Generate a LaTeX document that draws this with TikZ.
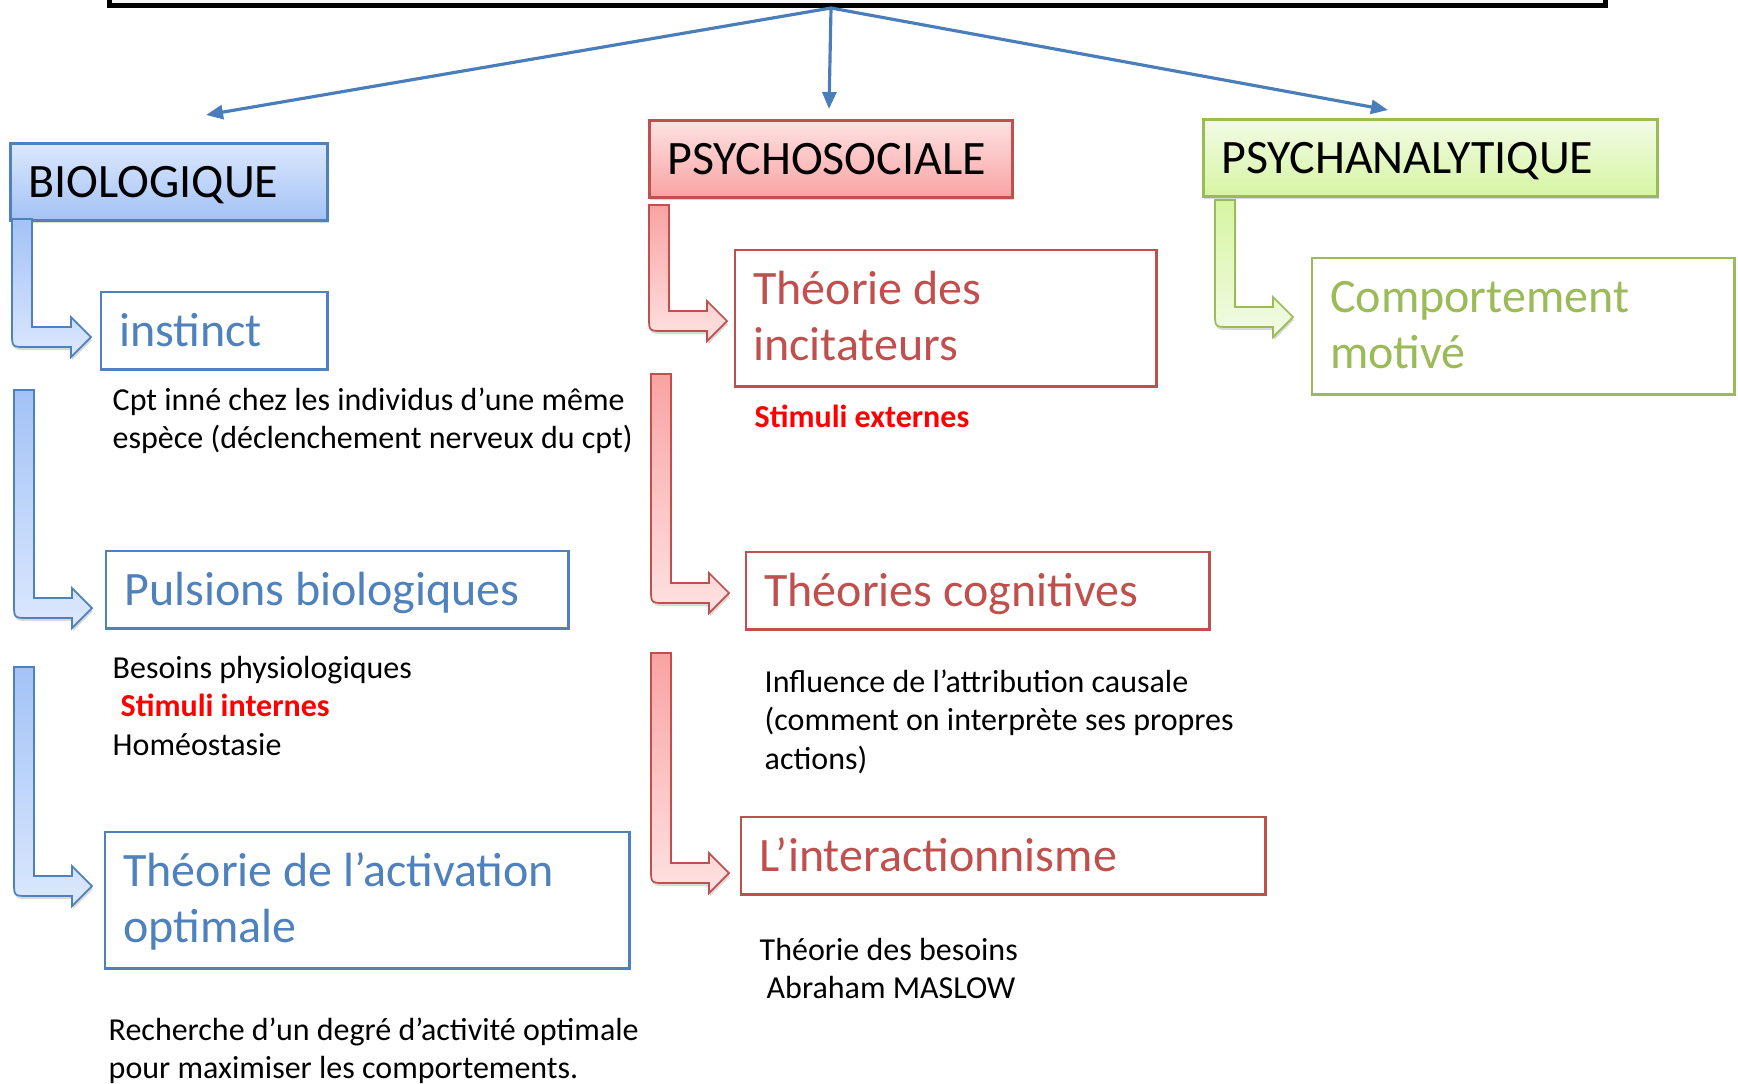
\documentclass[tikz,border=0pt]{standalone}
\usepackage{fontspec}
\setmainfont{Carlito}
\usetikzlibrary{arrows.meta,shadows}

\definecolor{bioline}{HTML}{4F81BD}
\definecolor{biolight}{RGB}{220,232,253}
\definecolor{biodark}{RGB}{163,194,246}
\definecolor{psyline}{HTML}{C0504D}
\definecolor{psylight}{RGB}{254,226,226}
\definecolor{psydark}{RGB}{249,163,163}
\definecolor{analine}{HTML}{9BBB59}
\definecolor{analight}{RGB}{242,251,230}
\definecolor{anadark}{RGB}{214,245,162}
\definecolor{linkblue}{HTML}{4A7EBB}

\newcommand{\stimtext}[1]{\textcolor{red}{\bfseries #1}}
\newcommand{\bentarrow}[5]{%
  \path[#1] (#2,#3) -- (#2+20,#3) -- (#2+20,#5-10) -- (#4-20,#5-10) -- (#4-20,#5-20)
    -- (#4,#5) -- (#4-20,#5+20) -- (#4-20,#5+10) -- (#2+14,#5+10)
    .. controls (#2,#5+10) .. (#2,#5-4) -- cycle;}

\begin{document}
\begin{tikzpicture}
  [x=0.01cm, y=-0.01cm,
   shade/.style={drop shadow={shadow xshift=0.01cm, shadow yshift=-0.03cm, opacity=0.3}},
   head/.style={draw, line width=0.8pt, anchor=north west, inner xsep=0.18cm, inner ysep=0,
     align=flush left, minimum height=0.77cm, text height=0.35cm, text depth=0.03cm,
     font=\fontsize{13.65}{16}\selectfont, shade},
   headbio/.style={head, draw=bioline, top color=biolight, bottom color=biodark},
   headpsy/.style={head, draw=psyline, top color=psylight, bottom color=psydark},
   headana/.style={head, draw=analine, top color=analight, bottom color=anadark},
   item/.style={draw, line width=0.7pt, fill=white, anchor=north west, inner xsep=0.18cm,
     inner ysep=0, align=flush left, minimum height=0.77cm, text height=0.35cm, text depth=0.04cm,
     font=\fontsize{13.65}{16}\selectfont},
   itembio/.style={item, draw=bioline, text=bioline},
   itempsy/.style={item, draw=psyline, text=psyline},
   itemana/.style={item, draw=analine, text=analine},
   twoline/.style={minimum height=1.36cm, text depth=0.63cm},
   note/.style={anchor=base west, inner sep=0, align=flush left, text width=6cm,
     font=\fontsize{9.1}{11}\selectfont},
   link/.style={draw=linkblue, line width=0.9pt, -{Triangle[length=0.17cm,width=0.14cm]}},
   bent/.style={line width=0.5pt, shade},
   bentbio/.style={bent, draw=bioline, top color=biodark, bottom color=biolight},
   bentpsy/.style={bent, draw=psyline, top color=psydark, bottom color=psylight},
   bentana/.style={bent, draw=analine, top color=anadark, bottom color=analight}]
  \useasboundingbox (0,0) rectangle (1738,1084);
  \clip (0,0) rectangle (1738,1084);

  \node[draw, line width=1.5pt, fill=black!3, anchor=south west, minimum width=14.955cm,
        minimum height=0.6cm, inner sep=0] (theme) at (106.5,8) {};

  \node[headbio, text width=2.81cm] (biol) at (9,142) {BIOLOGIQUE};
  \node[headpsy, text width=3.27cm] (psyso) at (648,119) {PSYCHOSOCIALE};
  \node[headana, text width=4.18cm] (psyan) at (1202,118) {PSYCHANALYTIQUE};

  \coordinate (fork) at (theme.south -| psyso.north);
  \coordinate (tobio) at (206,115);
  \coordinate (topsy) at (829,109);
  \coordinate (toana) at (1388,110);
  \draw[link] (fork) -- (tobio);
  \draw[link] (fork) -- (topsy);
  \draw[link] (fork) -- (toana);

  \bentarrow{bentbio}{12}{219}{91}{337}
  \bentarrow{bentbio}{14}{390}{92}{608}
  \bentarrow{bentbio}{14}{667}{92}{886}
  \bentarrow{bentpsy}{649}{205}{727}{321}
  \bentarrow{bentpsy}{651}{374}{729}{593}
  \bentarrow{bentpsy}{651}{653}{729}{873}
  \bentarrow{bentana}{1215}{200}{1293}{317}

  \node[itembio, text width=1.90cm] (instinct) at (100,291) {instinct};
  \node[itembio, text width=4.26cm] (pulsion) at (105,550) {Pulsions biologiques};
  \node[itembio, twoline, text width=4.88cm] (activ) at (104,831) {Théorie de l’activation\\optimale};
  \node[itempsy, twoline, text width=3.85cm] (incit) at (734,249) {Théorie des\\incitateurs};
  \node[itempsy, text width=4.27cm] (cogn) at (745,551) {Théories cognitives};
  \node[itempsy, text width=4.88cm] (inter) at (740,816) {L’interactionnisme};
  \node[itemana, twoline, text width=3.86cm] (motiv) at (1311,257) {Comportement\\motivé};

  \node[note] (cptnote) at (112,410) {Cpt inné chez les individus d’une même\\espèce (déclenchement nerveux du cpt)};
  \node[note] (pulsnote) at (112,678) {Besoins physiologiques\\\hspace*{0.08cm}\stimtext{Stimuli internes}\\Homéostasie};
  \node[note] (activnote) at (108,1040) {Recherche d’un degré d’activité optimale\\pour maximiser les comportements.};
  \node[note] (extnote) at (754,427) {\stimtext{Stimuli externes}};
  \node[note] (cognnote) at (764,692) {Influence de l’attribution causale\\(comment on interprète ses propres\\actions)};
  \node[note] (internote) at (759,960) {Théorie des besoins\\\hspace*{0.07cm}Abraham MASLOW};
\end{tikzpicture}
\end{document}
